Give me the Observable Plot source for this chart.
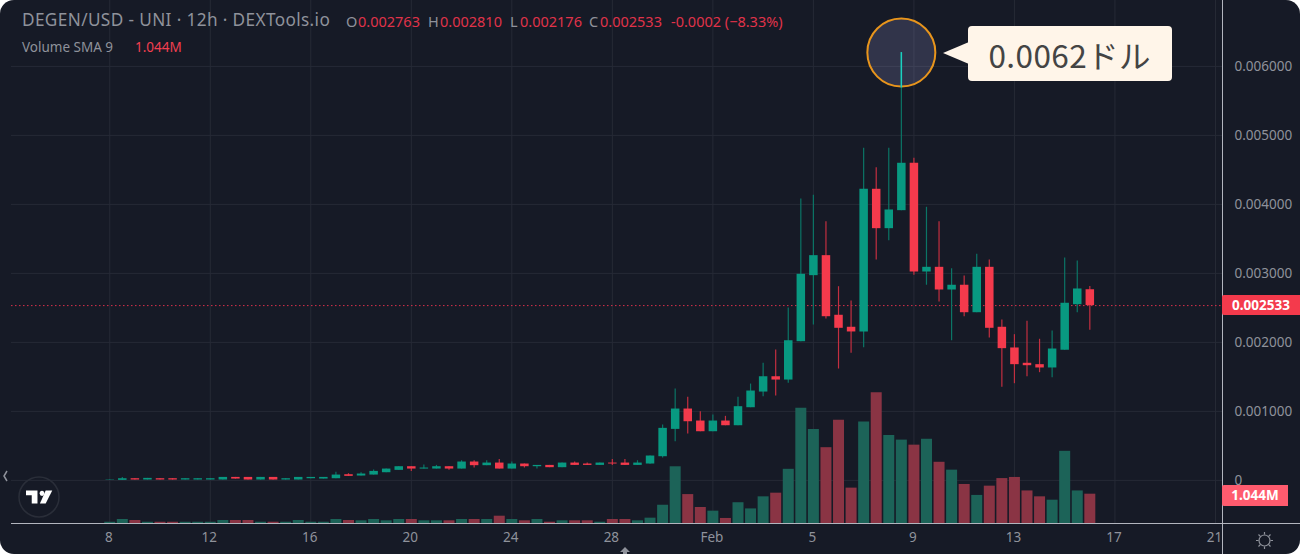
<!DOCTYPE html>
<html>
<head>
<meta charset="utf-8">
<script src="https://cdn.jsdelivr.net/npm/d3@7"></script>
<script src="https://cdn.jsdelivr.net/npm/@observablehq/plot@0.6"></script>
<style>
  html, body { margin: 0; background: #fff; }
  #chart { position: relative; width: 1300px; height: 554px; overflow: hidden; border-radius: 14px; background: #161a26; font-family: "Noto Sans", sans-serif; }
  #chart svg { position: absolute; left: 0; top: 0; }
  .lbl { position: absolute; white-space: nowrap; color: #8f929b; line-height: 1; }
  .red { color: #e0334a; }
  .tag { position: absolute; left: 1222px; color: #fff; font-size: 13.5px; font-weight: 700; display: flex; align-items: center; justify-content: center; border-radius: 2px 0 0 2px; }
  #callout { position: absolute; background: #fff5e9; border-radius: 4px; color: #444; font-size: 31.5px; font-family: "Noto Sans CJK JP", sans-serif; display: flex; align-items: center; justify-content: center; letter-spacing: 0.4px; }
  #callout:before { content: ""; position: absolute; left: -25px; top: 16px; border-right: 26px solid #fff5e9; border-top: 11.5px solid transparent; border-bottom: 11.5px solid transparent; }
</style>
</head>
<body>
<div id="chart"></div>
<script>
// values, prices in millionths of a dollar, volume in millions
const opens = [0,0,24,5,24,24,5,5,5,5,43,43,5,43,5,5,24,19,24,82,63,77,111,145,198,164,164,198,164,266,213,251,164,237,198,217,184,251,237,217,251,251,217,237,343,739,1034,860,705,860,792,1053,1280,1502,1454,2010,2967,3257,2393,2219,2151,4219,3648,3909,4596,3020,3088,2759,2828,2430,3088,2219,1919,1697,1677,1629,1886,2546,2763]
const highs = [5,43,24,29,24,24,24,24,24,43,43,43,43,43,24,43,43,43,116,97,111,150,164,198,198,222,217,198,285,285,285,304,266,237,217,217,251,266,251,251,304,304,285,355,802,1324,1203,995,947,928,1203,1396,1696,1889,2499,4078,4132,3749,2807,2600,4813,4532,4813,6200,4668,3958,3749,3068,2962,3277,3194,2325,2112,2306,2045,2165,3223,3180,2810]
const lows = [0,0,5,5,5,5,5,5,5,5,19,5,5,5,5,5,24,19,24,58,63,77,111,145,130,164,164,145,164,179,213,164,164,179,164,184,184,217,217,217,217,217,217,235,324,560,672,705,705,792,792,1053,1213,1222,1406,2010,2252,2339,1614,1842,1923,3194,3474,3909,2973,2828,2586,2025,2372,2430,2064,1349,1401,1503,1561,1488,1886,2430,2176]
const closes = [5,24,5,29,5,5,24,24,24,43,19,5,43,5,24,43,43,43,77,58,92,130,164,198,164,179,198,164,266,213,251,164,237,198,217,184,251,217,217,251,237,217,251,353,754,1034,850,705,860,792,1068,1295,1502,1454,2024,2987,3257,2372,2204,2151,4219,3648,3919,4596,3020,3088,2759,2828,2430,3088,2204,1909,1677,1662,1629,1904,2567,2774,2533]
const volumes = [.046,.142,.107,.046,.046,.046,.046,.046,.046,.107,.107,.107,.046,.046,.046,.107,.046,.046,.142,.107,.096,.142,.096,.142,.142,.096,.096,.096,.142,.142,.142,.26,.142,.096,.142,.046,.096,.096,.096,.046,.142,.142,.096,.19,.65,2.02,1.03,.57,.44,.18,.74,.52,.95,1.08,1.93,4.10,3.35,2.70,3.68,1.26,3.61,4.66,3.13,2.97,2.79,3.00,2.18,1.90,1.39,1.00,1.33,1.60,1.64,1.16,.95,.83,2.57,1.16,1.044]

const priceTicks = [0, 0.001, 0.002, 0.003, 0.004, 0.005, 0.006]
const dateTicks = ['2024-01-08','2024-01-12','2024-01-16','2024-01-20','2024-01-24','2024-01-28','2024-02-01','2024-02-05','2024-02-09','2024-02-13','2024-02-17','2024-02-21']
const dateLabels = ['8','12','16','20','24','28','Feb','5','9','13','17','21']
const lastClose = 0.002533
const peakIndex = 63
const peakCut = 0.005687 // where the wick leaves the highlight circle

const times = d3.utcHours(new Date('2024-01-08T00:00Z'), new Date('2024-02-16T01:00Z'), 12)
const candles = times.map((date, i) => ({
  date,
  open: opens[i] / 1e6,
  high: highs[i] / 1e6,
  low: lows[i] / 1e6,
  close: closes[i] / 1e6,
  volume: volumes[i],
  up: closes[i] >= opens[i],
}))
const peak = candles[peakIndex]

const yDomain = [-0.000625, 0.006955]
const xDomain = [new Date('2024-01-04T02:10Z'), new Date('2024-02-21T06:43Z')]
// volume sits on the same plot, rescaled onto the bottom of the price axis
const volumeToY = d3.scaleLinear([0, 1], [yDomain[0], yDomain[0] + 0.000407])

const GREEN = '#089981', RED = '#f43a4c', GRID = '#262a36', AXIS = '#b2b5be', TEXT = '#8f929b'

const chart = Plot.plot({
  width: 1300,
  height: 554,
  marginLeft: 11,
  marginRight: 78,
  marginTop: 0,
  marginBottom: 31,
  x: { type: 'utc', domain: xDomain },
  y: { domain: yDomain },
  style: { background: 'transparent', fontFamily: '"Noto Sans", sans-serif' },
  marks: [
    Plot.ruleX(dateTicks.map(d => new Date(d)), { stroke: GRID }),
    Plot.ruleY(priceTicks, { stroke: GRID }),
    Plot.ruleX(candles, {
      x: 'date',
      y1: yDomain[0],
      y2: d => volumeToY(d.volume),
      stroke: d => d.up ? '#1c6358' : '#8a3444',
      strokeWidth: 11,
    }),
    Plot.ruleY([lastClose], { stroke: '#d9304a', strokeDasharray: '1.5 2.5' }),
    Plot.dot([peak], {
      x: 'date',
      y: 'high',
      r: 34,
      fill: '#a0a0dc',
      fillOpacity: 0.2,
      stroke: '#e8951c',
      strokeWidth: 2,
    }),
    Plot.ruleX(candles, {
      x: 'date',
      y1: 'low',
      y2: 'high',
      stroke: d => d.up ? '#0b7566' : '#c32f40',
      strokeWidth: 1.2,
    }),
    Plot.ruleX([peak], { x: 'date', y1: peakCut, y2: 'high', stroke: '#1cd0c0', strokeWidth: 1.5 }),
    Plot.ruleX(candles, {
      x: 'date',
      y1: 'open',
      y2: 'close',
      stroke: d => d.up ? GREEN : RED,
      strokeWidth: 8.5,
    }),
    Plot.ruleX([xDomain[1]], { stroke: AXIS, insetBottom: -31 }),
    Plot.ruleY([yDomain[0]], { stroke: AXIS, insetRight: -78 }),
    Plot.axisY({
      anchor: 'right',
      ticks: priceTicks,
      tickFormat: d => d === 0 ? '0' : d.toFixed(6),
      tickSize: 0,
      tickPadding: 12,
      fill: TEXT,
      fontSize: 13.5,
      label: null,
    }),
    Plot.axisX({
      ticks: dateTicks.map(d => new Date(d)),
      tickFormat: d => dateLabels[dateTicks.indexOf(d.toISOString().slice(0, 10))],
      tickSize: 0,
      tickPadding: 9,
      dx: -1,
      fill: TEXT,
      fontSize: 13.5,
      label: null,
    }),
  ],
})

const box = document.getElementById('chart')
box.append(chart)

const xs = chart.scale('x'), ys = chart.scale('y')

function label(text, left, top, size, cls) {
  const el = document.createElement('div')
  el.className = 'lbl ' + (cls || '')
  el.textContent = text
  el.style.left = left + 'px'
  el.style.top = top + 'px'
  el.style.fontSize = size + 'px'
  box.append(el)
  return el
}

function tag(text, cy, h, w, color) {
  const el = document.createElement('div')
  el.className = 'tag'
  el.textContent = text
  el.style.top = (cy - h / 2) + 'px'
  el.style.height = h + 'px'
  el.style.width = w + 'px'
  el.style.background = color
  box.append(el)
}

// header legend
label('DEGEN/USD - UNI · 12h · DEXTools.io', 22, 11, 17.2).style.letterSpacing = '0.38px'
label('O', 346, 14, 14.5)
label('0.002763', 358, 14, 14.5, 'red')
label('H', 428, 14, 14.5)
label('0.002810', 440, 14, 14.5, 'red')
label('L', 510, 14, 14.5)
label('0.002176', 520, 14, 14.5, 'red')
label('C', 589, 14, 14.5)
label('0.002533', 600, 14, 14.5, 'red')
label('-0.0002 (−8.33%)', 671, 14, 14.5, 'red')
label('Volume SMA 9', 22, 41, 13.5)
label('1.044M', 135, 41, 13.5).style.color = '#f23f50'

tag('0.002533', ys.apply(lastClose), 20, 78, '#f43a4c')
tag('1.044M', 495, 21, 66, '#ff5b6e')

// callout next to the peak
const callout = document.createElement('div')
callout.id = 'callout'
callout.textContent = '0.0062ドル'
callout.style.left = (xs.apply(peak.date) + 66.8) + 'px'
callout.style.top = (ys.apply(peak.high) - 26) + 'px'
callout.style.width = '204px'
callout.style.height = '55px'
box.append(callout)

// logo, scroll arrow and settings icon
const icons = document.createElement('div')
icons.innerHTML = `
<svg width="1300" height="554" style="pointer-events:none">
  <circle cx="39" cy="497" r="20" fill="none" stroke="#2a2e39" stroke-width="1.5"/>
  <g transform="translate(26 490.5) scale(0.82 0.93)" fill="#fff">
    <path d="M14 0H0v5h7v9h7z"/><circle cx="19.5" cy="3" r="2.8"/><path d="M24 14h-7L24 0h8z"/>
  </g>
  <path d="M7 471l-3 5 3 5" fill="none" stroke="#8f929b" stroke-width="1.5"/>
  <path d="M625 547l5 5h-3v2h-4v-2h-3z" fill="#8f929b"/>
  <g fill="none" stroke="#8f929b" stroke-width="1.2">
    <circle cx="1264.5" cy="540.5" r="5.5"/>
    <path d="M1264.5 532v2.5M1264.5 546.5v2.5M1256 540.5h2.5M1270.5 540.5h2.5M1258.5 534.5l1.8 1.8M1268.7 544.7l1.8 1.8M1258.5 546.5l1.8-1.8M1268.7 536.3l1.8-1.8"/>
  </g>
</svg>`
box.append(icons)
</script>
</body>
</html>
